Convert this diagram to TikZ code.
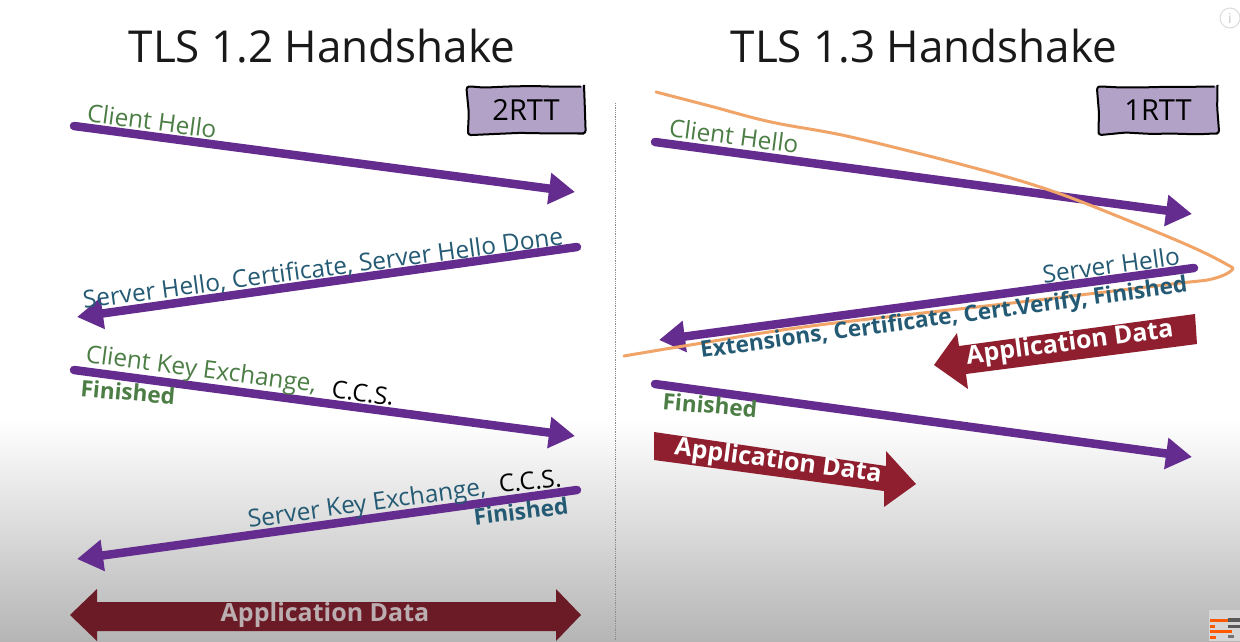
\documentclass[tikz,border=0pt]{standalone}
\usepackage{fontspec}
\setmainfont{Open Sans}
\usetikzlibrary{arrows.meta,decorations.pathmorphing}
\definecolor{arrowpurple}{HTML}{652C90}
\definecolor{boxpurple}{HTML}{B3A2C7}
\definecolor{greenlab}{HTML}{4B7D45}
\definecolor{bluelab}{HTML}{245A73}
\definecolor{darkred}{HTML}{6B1B26}
\definecolor{midred}{HTML}{8F1F2E}
\definecolor{curve}{HTML}{F0A468}
\definecolor{fadetext}{HTML}{BBAEB0}
\tikzset{
  flow/.style={draw=arrowpurple,line width=8.5pt,line cap=round,-{Triangle[length=26pt,width=30pt]}},
  lab/.style={inner sep=0pt,font=\fontsize{24.4}{26}\selectfont},
  green/.style={lab,text=greenlab},
  blue/.style={lab,text=bluelab},
  black/.style={lab,text=black},
  soft/.style={inner sep=0pt,font=\fontsize{22.6}{26}\selectfont\bfseries},
  title/.style={inner sep=0pt,font=\fontsize{44}{46}\selectfont,text=black!90},
  rtt/.style={inner sep=0pt,minimum width=116pt,minimum height=47pt,fill=boxpurple,draw=black,line width=2pt,
     rounded corners=3pt,decorate,decoration={random steps,segment length=24pt,amplitude=1.1pt},
     font=\fontsize{29}{31}\selectfont},
  banner/.style={fill=midred,draw=none},
  bannertext/.style={inner sep=0pt,font=\fontsize{25}{27}\selectfont\bfseries,text=white}
}
\begin{document}
\begin{tikzpicture}[x=1pt,y=-1pt]
\useasboundingbox (0,0) rectangle (1240,641);
\fill[white] (0,0) rectangle (1240,641);
\shade[top color=white,bottom color=black!29] (0,420) rectangle (1240,641);
\draw[black!45,line width=0.8pt,densely dotted] (615,103) -- (615,641);

% titles
\node[title] (t12) at (322,46) {TLS 1.2 Handshake};
\node[title] (t13) at (924,46) {TLS 1.3 Handshake};

% RTT boxes
\pgfmathsetseed{7}
\node[rtt] (b2) at (526,110) {\raisebox{-2.5pt}{2RTT}};
\node[rtt,minimum width=119pt] (b1) at (1158,110) {\raisebox{-2.5pt}{1RTT}};

% left connectors
\coordinate (la1) at (74,126);  \coordinate (la2) at (575,192);
\coordinate (lb1) at (577,247); \coordinate (lb2) at (77,317);
\coordinate (lc1) at (74,370);  \coordinate (lc2) at (575,436);
\coordinate (ld1) at (577,490); \coordinate (ld2) at (77,559);
\draw[flow] (la1) -- (la2);
\draw[flow] (lb1) -- (lb2);
\draw[flow] (lc1) -- (lc2);
\draw[flow] (ld1) -- (ld2);

% right connectors
\coordinate (ra1) at (655,142);  \coordinate (ra2) at (1192,214);
\coordinate (rb1) at (1194,268); \coordinate (rb2) at (659,340);
\coordinate (rc1) at (655,384);  \coordinate (rc2) at (1192,457);
\draw[flow] (ra1) -- (ra2);
\draw[flow] (rb1) -- (rb2);
\draw[flow] (rc1) -- (rc2);

% orange scribble
\draw[curve,line width=3pt,line cap=round,line join=round]
  plot[smooth,tension=0.6] coordinates {(656,92) (710,106) (771,122) (851,137) (971,167) (1052,191)
  (1132,222) (1192,247) (1226,264) (1232,270) (1212,279) (1172,284) (1012,303) (811,326) (690,345) (624,356)};

% left labels
\node[green,rotate=-7.5] (l1) at (152,121) {Client Hello};
\node[blue,rotate=7.6] (l2) at (323,269) {Server Hello, Certificate, Server Hello Done};
\node[green,rotate=-7.5] (l3) at (201,371) {Client Key Exchange,};
\node[black,rotate=-7.5] (l4) at (363,393) {C.C.S.};
\node[soft,text=greenlab,rotate=-5] (l5) at (128,392) {Finished};
\node[blue,rotate=8] (l6) at (367,505) {Server Key Exchange,};
\node[black,rotate=6] (l7) at (530,481) {C.C.S.};
\node[soft,text=bluelab,rotate=7] (l8) at (521,511) {Finished};

% right labels
\node[green,rotate=-7.5] (r1) at (734,136) {Client Hello};
\node[blue,rotate=7.8] (r2) at (1111,265) {Server Hello};
\node[soft,text=bluelab,rotate=7.7] (r3) at (944,319) {Extensions, Certificate, Cert.Verify, Finished};
\node[soft,text=greenlab,rotate=-5] (r4) at (710,405) {Finished};

% bottom double arrow
\fill[darkred] (70,615) -- (97,589) -- (97,602) -- (556,602) -- (556,589) -- (581,615)
  -- (556,641) -- (556,631) -- (97,631) -- (97,641) -- cycle;
\node[bannertext,text=fadetext] (ad1) at (325,615) {Application Data};

% red block arrows
\fill[banner] (934,365) -- (957,333) -- (959,346) -- (1195,314) -- (1197,344) -- (966,374) -- (968,389) -- cycle;
\node[bannertext,rotate=7.5] (ad2) at (1070,344) {Application Data};
\fill[banner] (654,432) -- (886,466) -- (886,451) -- (916,484) -- (884,507) -- (884,491) -- (654,460) -- cycle;
\node[bannertext,rotate=-7.5] (ad3) at (778,462) {Application Data};

% info icon
\draw[black!14,line width=1pt] (1230,18) circle (10);
\node[inner sep=0pt,text=black!22,font=\fontsize{14}{14}\selectfont] (inf) at (1230,18) {i};

% logo corner
\fill[black!16] (1209,610) rectangle (1240,641);
\fill[orange!70!red] (1210,619) rectangle (1228,622);
\fill[orange!70!red] (1210,630) rectangle (1232,633);
\fill[orange!70!red] (1210,636) rectangle (1216,639);
\fill[orange!70!red] (1210,625) rectangle (1215,628);
\fill[black!65] (1228,618) rectangle (1240,622);
\fill[black!65] (1228,625) rectangle (1240,628);
\fill[black!55] (1228,635) rectangle (1234,638);
\end{tikzpicture}
\end{document}
